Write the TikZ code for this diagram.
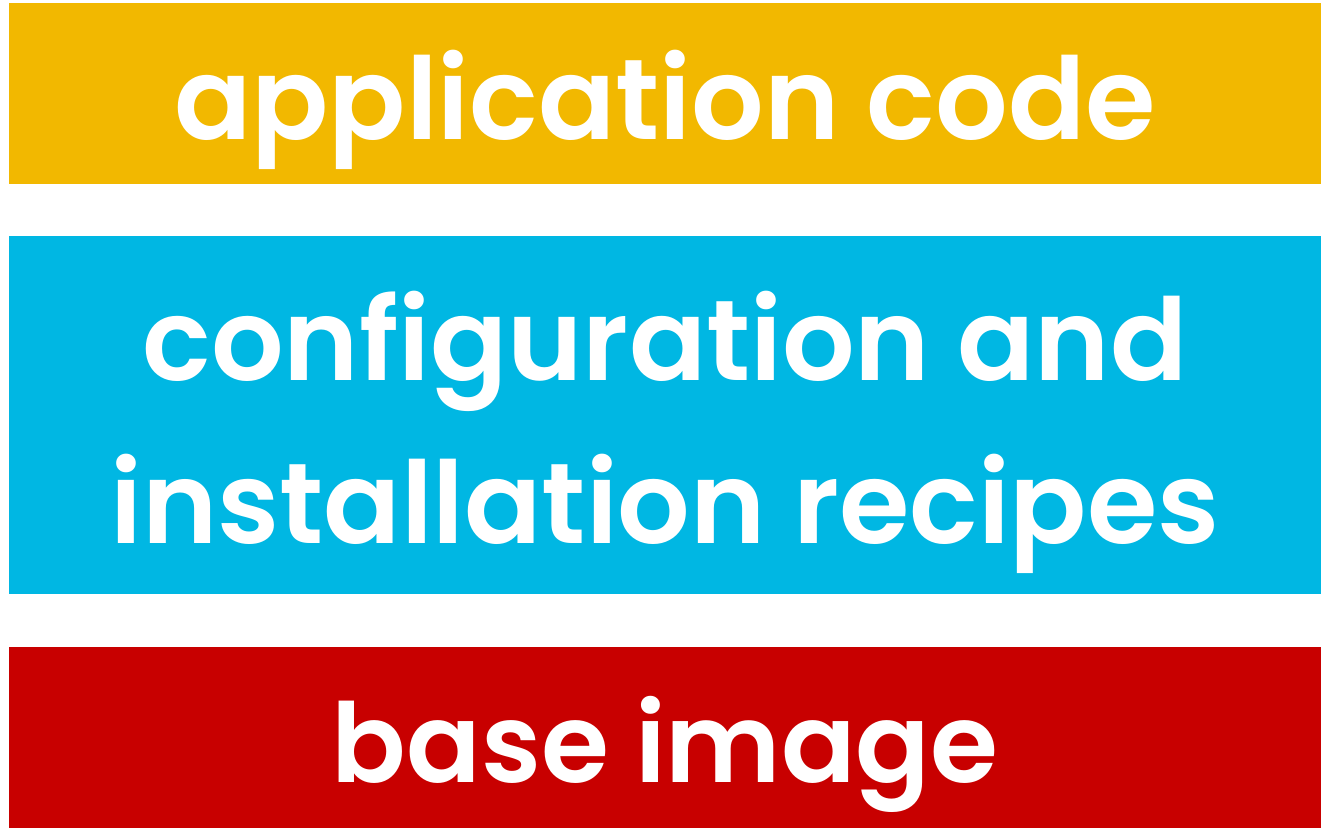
\documentclass[tikz,border=0pt]{standalone}
\usepackage{fontspec}
\setmainfont{Poppins}[BoldFont={* SemiBold}]
\definecolor{barYellow}{HTML}{F2B800}
\definecolor{barBlue}{HTML}{00B7E3}
\definecolor{barRed}{HTML}{C80000}
\begin{document}
\begin{tikzpicture}[x=0.5pt,y=-0.5pt,
  bar/.style={draw=none,inner sep=0pt,outer sep=0pt},
  lbl/.style={text=white,font=\fontsize{57}{72}\selectfont\bfseries,inner sep=0pt,anchor=base}]
\useasboundingbox (0,0) rectangle (1321,828);
\fill[white] (0,0) rectangle (1321,828);
\node[bar,fill=barYellow,minimum width=1312*0.5pt,minimum height=181*0.5pt,anchor=north west] (app) at (9,3) {};
\node[bar,fill=barBlue,minimum width=1312*0.5pt,minimum height=358*0.5pt,anchor=north west] (cfg) at (9,236) {};
\node[bar,fill=barRed,minimum width=1312*0.5pt,minimum height=181*0.5pt,anchor=north west] (base) at (9,647) {};
\node[lbl] (appt) at (app.center |- 0,140) {application code};
\node[lbl] (cfgt1) at (cfg.center |- 0,380) {configuration and};
\node[lbl] (cfgt2) at (cfg.center |- 0,543) {installation recipes};
\node[lbl,font=\fontsize{55}{72}\selectfont\bfseries] (baset) at (base.center |- 0,782) {base image};
\end{tikzpicture}
\end{document}
